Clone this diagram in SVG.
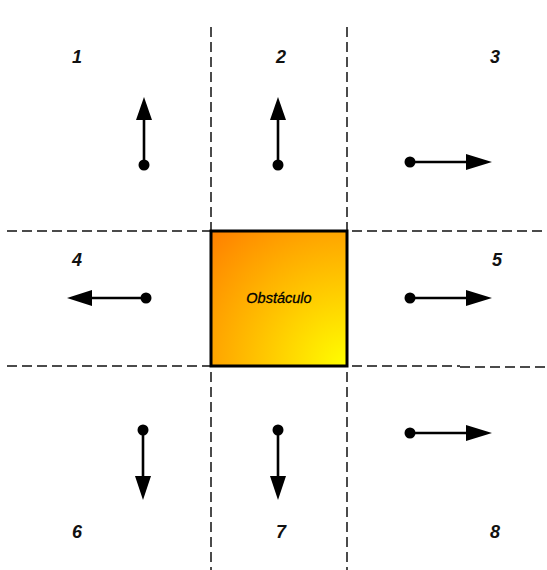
<svg xmlns="http://www.w3.org/2000/svg" width="547" height="570" viewBox="0 0 547 570">
  <style>
    .grid { stroke: #111; stroke-width: 1.5; stroke-dasharray: 10 5; fill: none; }
    .vec { stroke: #000; stroke-width: 2.6; fill: none; }
    .dot { fill: #000; }
    .head { fill: #000; }
    .num { font-family: "Liberation Sans", Arial, sans-serif; font-size: 18px; font-weight: bold; font-style: italic; fill: #111; text-anchor: middle; }
    .lbl { font-family: "Liberation Sans", Arial, sans-serif; font-size: 14.5px; font-style: italic; fill: #000; stroke: #000; stroke-width: 0.3; text-anchor: middle; }
  </style>
  <defs>
    <radialGradient id="obsFill" gradientUnits="userSpaceOnUse" cx="347" cy="366" r="190">
      <stop offset="0" stop-color="#ffff00"/>
      <stop offset="0.5" stop-color="#ffbf00"/>
      <stop offset="1" stop-color="#ff8000"/>
    </radialGradient>
  </defs>

  <rect width="547" height="570" fill="#ffffff"/>

  <!-- dashed region boundaries -->
  <g id="grid">
    <line class="grid" x1="7" y1="231" x2="547" y2="231"/>
    <line class="grid" x1="7" y1="366" x2="460" y2="366"/>
    <line class="grid" x1="460" y1="367" x2="547" y2="367"/>
    <line class="grid" x1="211" y1="27" x2="211" y2="570"/>
    <line class="grid" x1="347" y1="27" x2="347" y2="570"/>
  </g>

  <!-- obstacle -->
  <g id="obstacle">
    <rect x="211" y="231" width="136" height="135" fill="url(#obsFill)" stroke="#000" stroke-width="3"/>
    <text class="lbl" x="279" y="303">Obstáculo</text>
  </g>

  <!-- direction vectors per region -->
  <g id="connectors">
    <!-- 1: up -->
    <g id="v1">
      <line class="vec" x1="144" y1="165" x2="144" y2="118"/>
      <polygon class="head" points="144,97 136,120 152,120"/>
      <circle class="dot" cx="144" cy="165" r="5.5"/>
    </g>
    <!-- 2: up -->
    <g id="v2">
      <line class="vec" x1="278" y1="165" x2="278" y2="118"/>
      <polygon class="head" points="278,97 270,120 286,120"/>
      <circle class="dot" cx="278" cy="165" r="5.5"/>
    </g>
    <!-- 3: right -->
    <g id="v3">
      <line class="vec" x1="410" y1="162" x2="468" y2="162"/>
      <polygon class="head" points="492,162 466,154 466,170"/>
      <circle class="dot" cx="410" cy="162" r="5.5"/>
    </g>
    <!-- 4: left -->
    <g id="v4">
      <line class="vec" x1="146" y1="298" x2="90" y2="298"/>
      <polygon class="head" points="67,298 92,290 92,306"/>
      <circle class="dot" cx="146" cy="298" r="5.5"/>
    </g>
    <!-- 5: right -->
    <g id="v5">
      <line class="vec" x1="410" y1="298" x2="468" y2="298"/>
      <polygon class="head" points="492,298 466,290 466,306"/>
      <circle class="dot" cx="410" cy="298" r="5.5"/>
    </g>
    <!-- 6: down -->
    <g id="v6">
      <line class="vec" x1="143" y1="430" x2="143" y2="478"/>
      <polygon class="head" points="143,500 135,476 151,476"/>
      <circle class="dot" cx="143" cy="430" r="5.5"/>
    </g>
    <!-- 7: down -->
    <g id="v7">
      <line class="vec" x1="278" y1="430" x2="278" y2="478"/>
      <polygon class="head" points="278,500 270,476 286,476"/>
      <circle class="dot" cx="278" cy="430" r="5.5"/>
    </g>
    <!-- 8: right -->
    <g id="v8">
      <line class="vec" x1="410" y1="433" x2="468" y2="433"/>
      <polygon class="head" points="492,433 466,425 466,441"/>
      <circle class="dot" cx="410" cy="433" r="5.5"/>
    </g>
  </g>

  <!-- region numbers -->
  <g id="labels">
    <text id="r1" class="num" x="77" y="63">1</text>
    <text id="r2" class="num" x="281" y="63">2</text>
    <text id="r3" class="num" x="495" y="63">3</text>
    <text id="r4" class="num" x="77" y="266">4</text>
    <text id="r5" class="num" x="497" y="266">5</text>
    <text id="r6" class="num" x="77" y="538">6</text>
    <text id="r7" class="num" x="281" y="538">7</text>
    <text id="r8" class="num" x="495" y="538">8</text>
  </g>
</svg>
